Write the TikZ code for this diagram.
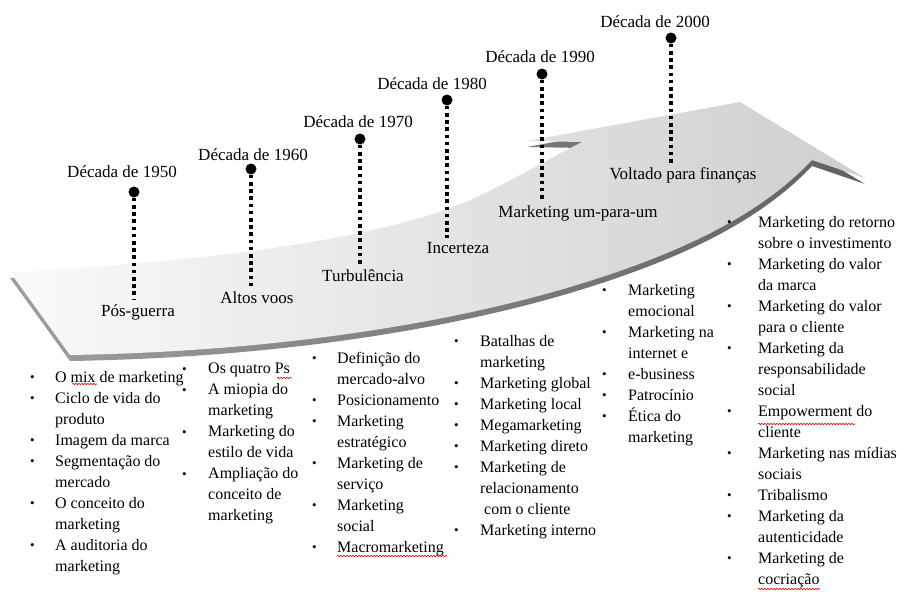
\documentclass[tikz,border=0pt]{standalone}
\usepackage{fontspec}
\setmainfont{Liberation Serif}
\usetikzlibrary{decorations.pathmorphing}

\newlength{\bulw}
\newcommand{\lbul}{\makebox[\bulw][l]{\raisebox{0.5pt}{\fontsize{13}{13}\selectfont\textbullet}}}
\newcommand{\lgap}{\hspace*{\bulw}}

\begin{document}
\begin{tikzpicture}[x=1pt,y=-1pt,
    year node/.style={font=\fontsize{17}{20}\selectfont,inner sep=1pt},
    era node/.style={font=\fontsize{17}{20}\selectfont,inner sep=2pt},
    dot node/.style={circle,fill=black,minimum size=11pt,inner sep=0pt},
    dot line/.style={line width=3.6pt,dash pattern=on 3.6pt off 3.6pt},
    list node/.style={font=\fontsize{16}{21}\selectfont,align=left,anchor=north west,inner sep=0pt,
        execute at begin node={\setlength{\bulw}{#1}}},
    list node/.default=25pt,
    spell/.style={red,line width=0.6pt,decorate,decoration={snake,amplitude=0.8pt,segment length=3pt}}]

    \useasboundingbox (0,0) rectangle (898,592);

    % arrow: dark underside first, light top surface over it
    \shade[left color=black!38,right color=black!62,shift={(0,6)}] (10,272) .. controls (200,262) and (380,240) .. (470,200)
        .. controls (510,182) and (550,158) .. (582,142) -- (527,141) -- (740,102) -- (865,178) -- (812,160)
        .. controls (760,215) and (680,255) .. (560,290) .. controls (420,330) and (250,352) .. (70,355) -- cycle;
    \shade[left color=black!2,right color=black!19] (10,272) .. controls (200,262) and (380,240) .. (470,200)
        .. controls (510,182) and (550,158) .. (582,142) -- (527,141) -- (740,102) -- (865,178) -- (812,160)
        .. controls (760,215) and (680,255) .. (560,290) .. controls (420,330) and (250,352) .. (70,355) -- cycle;

    % decades
    \node[year node] at (122,172) (d1950) {Década de 1950};
    \node[year node] at (253,155) (d1960) {Década de 1960};
    \node[year node] at (358,122) (d1970) {Década de 1970};
    \node[year node] at (432,84) (d1980) {Década de 1980};
    \node[year node] at (540,57) (d1990) {Década de 1990};
    \node[year node] at (655,22) (d2000) {Década de 2000};

    \node[dot node] at (134,192) (p1950) {};
    \node[dot node] at (251,169) (p1960) {};
    \node[dot node] at (360,139) (p1970) {};
    \node[dot node] at (447,100) (p1980) {};
    \node[dot node] at (542,74) (p1990) {};
    \node[dot node] at (671,38) (p2000) {};

    \node[era node] at (138,312) (e1950) {Pós-guerra};
    \node[era node] at (257,298) (e1960) {Altos voos};
    \node[era node] at (363,276) (e1970) {Turbulência};
    \node[era node] at (458,248) (e1980) {Incerteza};
    \node[era node] at (578,213) (e1990) {Marketing um-para-um};
    \node[era node] at (683,175) (e2000) {Voltado para finanças};

    \foreach \y in {1950,1960,1970,1980,1990,2000}
        \draw[dot line] (p\y) -- ([yshift=2pt]p\y |- e\y.north);

    % lists
    \node[list node] at (30,371) (l1950) {\lbul O mix de marketing\\ \lbul Ciclo de vida do\\ \lgap produto\\
        \lbul Imagem da marca\\ \lbul Segmentação do\\ \lgap mercado\\ \lbul O conceito do\\ \lgap marketing\\
        \lbul A auditoria do\\ \lgap marketing};
    \node[list node=26pt] at (182,363) (l1960) {\lbul Os quatro Ps\\ \lbul A miopia do\\ \lgap marketing\\
        \lbul Marketing do\\ \lgap estilo de vida\\ \lbul Ampliação do\\ \lgap conceito de\\ \lgap marketing};
    \node[list node] at (312,352) (l1970) {\lbul Definição do\\ \lgap mercado-alvo\\ \lbul Posicionamento\\
        \lbul Marketing\\ \lgap estratégico\\ \lbul Marketing de\\ \lgap serviço\\ \lbul Marketing\\ \lgap social\\
        \lbul Macromarketing};
    \node[list node=26pt] at (454,335) (l1980) {\lbul Batalhas de\\ \lgap marketing\\ \lbul Marketing global\\
        \lbul Marketing local\\ \lbul Megamarketing\\ \lbul Marketing direto\\ \lbul Marketing de\\
        \lgap relacionamento\\ \lgap\hspace{4pt}com o cliente\\ \lbul Marketing interno};
    \node[list node=26pt] at (602,284) (l1990) {\lbul Marketing\\ \lgap emocional\\ \lbul Marketing na\\
        \lgap internet e\\ \lbul e-business\\ \lbul Patrocínio\\ \lbul Ética do\\ \lgap marketing};
    \node[list node=31pt] at (727,216) (l2000) {\lbul Marketing do retorno\\ \lgap sobre o investimento\\
        \lbul Marketing do valor\\ \lgap da marca\\ \lbul Marketing do valor\\ \lgap para o cliente\\
        \lbul Marketing da\\ \lgap responsabilidade\\ \lgap social\\ \lbul Empowerment do\\ \lgap cliente\\
        \lbul Marketing nas mídias\\ \lgap sociais\\ \lbul Tribalismo\\ \lbul Marketing da\\ \lgap autenticidade\\
        \lbul Marketing de\\ \lgap cocriação};

    % spell-check marks
    \draw[spell] (72,384) -- (97,384);
    \draw[spell] (277,378) -- (292,378);
    \draw[spell] (337,556) -- (447,556);
    \draw[spell] (758,424) -- (855,424);
    \draw[spell] (758,589) -- (820,589);
\end{tikzpicture}
\end{document}
